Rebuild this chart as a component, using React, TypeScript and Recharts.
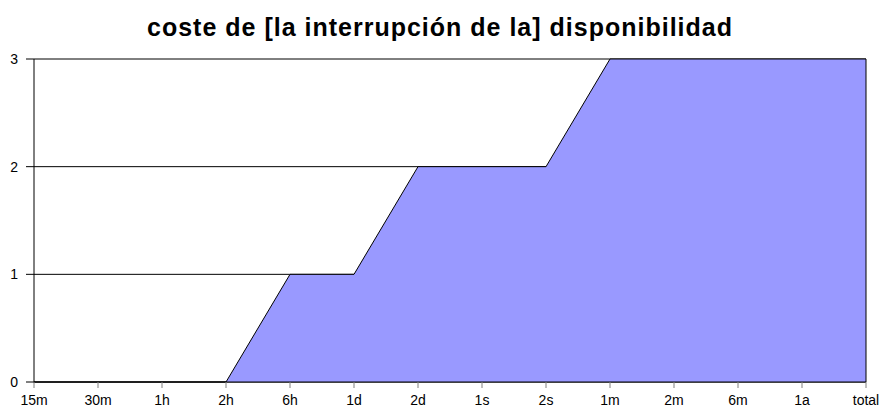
import { AreaChart, Area, XAxis, YAxis, CartesianGrid, ReferenceLine } from 'recharts';

const categories = ['15m', '30m', '1h', '2h', '6h', '1d', '2d', '1s', '2s', '1m', '2m', '6m', '1a', 'total'];
const coste = [0, 0, 0, 0, 1, 1, 2, 2, 2, 3, 3, 3, 3, 3];
const yTicks = [0, 1, 2, 3];

const data = categories.map((name, i) => ({ name, coste: coste[i] }));

const font = 'Liberation Sans, Arial, sans-serif';

export default function App() {
  return (
    <div style={{ position: 'absolute', left: 0, top: 0, width: 880, height: 412, background: '#fff', fontFamily: font, overflow: 'hidden' }}>
      <div
        style={{
          position: 'absolute',
          top: 13,
          left: 0,
          width: 880,
          textAlign: 'center',
          fontSize: 25,
          fontWeight: 'bold',
          letterSpacing: 1,
          lineHeight: '28px',
        }}
      >
        coste de [la interrupción de la] disponibilidad
      </div>
      <AreaChart width={880} height={412} data={data} margin={{ top: 59, right: 14, bottom: 0, left: 0 }}>
        <CartesianGrid vertical={false} stroke="#000" strokeWidth={1} />
        <XAxis
          dataKey="name"
          height={30}
          stroke="#000"
          tick={{ fill: '#000', fontSize: 14, fontFamily: font }}
          tickLine={{ stroke: '#808080' }}
          tickSize={6}
          tickMargin={7}
          interval={0}
        />
        <YAxis
          width={34}
          domain={[0, 3]}
          ticks={yTicks}
          stroke="#000"
          tick={{ fill: '#000', fontSize: 14, fontFamily: font }}
          tickSize={8}
          tickMargin={8}
        />
        <Area
          type="linear"
          dataKey="coste"
          stroke="#000"
          strokeWidth={1}
          fill="#9999ff"
          fillOpacity={1}
          isAnimationActive={false}
        />
        <ReferenceLine x="total" stroke="#000" />
      </AreaChart>
    </div>
  );
}
